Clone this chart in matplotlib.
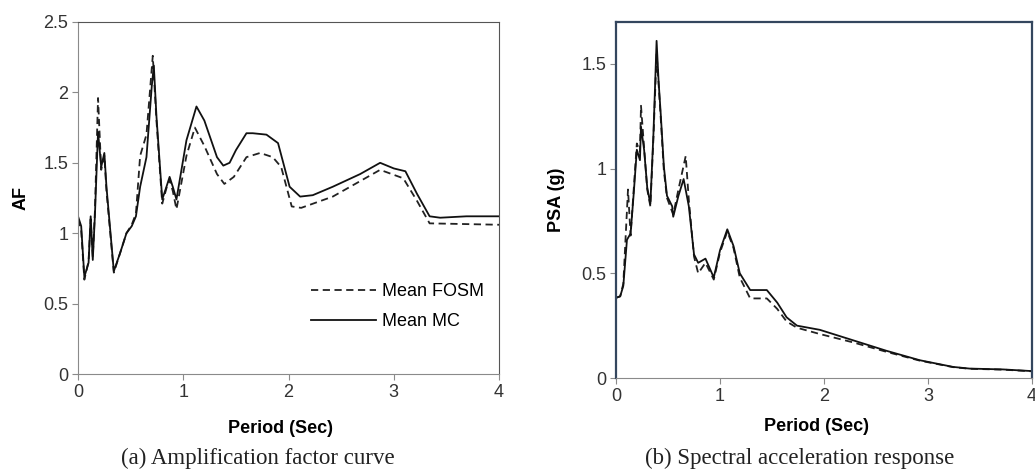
import matplotlib.pyplot as plt

# (a) amplification factor curve
af_period_mc = [0.0, 0.03, 0.06, 0.1, 0.12, 0.14, 0.16, 0.19, 0.22, 0.25, 0.27, 0.34, 0.40,
                0.46, 0.51, 0.55, 0.59, 0.65, 0.70, 0.72, 0.745, 0.80, 0.84, 0.87, 0.90, 0.935,
                1.03, 1.125, 1.20, 1.32, 1.38, 1.44, 1.50, 1.60, 1.66, 1.79, 1.90, 2.01, 2.11,
                2.23, 2.42, 2.68, 2.87, 3.0, 3.11, 3.22, 3.34, 3.44, 3.69, 4.0]
af_mc = [1.12, 1.05, 0.69, 0.79, 1.12, 0.81, 1.12, 1.72, 1.47, 1.57, 1.33, 0.73, 0.86,
         1.0, 1.05, 1.12, 1.33, 1.54, 2.04, 2.19, 1.83, 1.24, 1.33, 1.40, 1.33, 1.24,
         1.66, 1.90, 1.80, 1.54, 1.48, 1.50, 1.59, 1.71, 1.71, 1.70, 1.64, 1.33, 1.26,
         1.27, 1.33, 1.42, 1.50, 1.46, 1.44, 1.28, 1.12, 1.11, 1.12, 1.12]

af_period_fosm = [0.0, 0.03, 0.06, 0.1, 0.12, 0.14, 0.16, 0.19, 0.22, 0.25, 0.27, 0.34, 0.40,
                  0.46, 0.51, 0.55, 0.59, 0.65, 0.71, 0.745, 0.80, 0.84, 0.87, 0.90, 0.935,
                  1.03, 1.11, 1.20, 1.32, 1.39, 1.48, 1.60, 1.73, 1.85, 1.93, 2.03, 2.12,
                  2.42, 2.87, 3.09, 3.22, 3.34, 4.0]
af_fosm = [1.10, 1.02, 0.67, 0.80, 1.10, 0.83, 1.15, 1.96, 1.45, 1.55, 1.30, 0.72, 0.86,
           1.0, 1.06, 1.14, 1.55, 1.70, 2.26, 1.80, 1.21, 1.32, 1.38, 1.30, 1.17,
           1.55, 1.75, 1.62, 1.42, 1.35, 1.40, 1.54, 1.57, 1.54, 1.47, 1.19, 1.18,
           1.26, 1.45, 1.39, 1.23, 1.07, 1.06]

# (b) spectral acceleration response
psa_period_mc = [0.0, 0.04, 0.07, 0.105, 0.14, 0.17, 0.20, 0.23, 0.24, 0.27, 0.30, 0.33,
                 0.36, 0.39, 0.41, 0.43, 0.46, 0.49, 0.54, 0.55, 0.60, 0.65, 0.70, 0.75,
                 0.79, 0.86, 0.94, 1.00, 1.07, 1.13, 1.19, 1.29, 1.45, 1.55, 1.64, 1.74,
                 1.96, 2.28, 2.60, 2.92, 3.24, 3.40, 3.72, 4.0]
psa_mc = [0.383, 0.39, 0.44, 0.66, 0.69, 0.88, 1.09, 1.04, 1.20, 1.09, 0.91, 0.83,
          1.17, 1.61, 1.41, 1.26, 1.01, 0.87, 0.82, 0.77, 0.87, 0.95, 0.82, 0.59,
          0.55, 0.57, 0.48, 0.61, 0.71, 0.63, 0.50, 0.42, 0.42, 0.36, 0.29, 0.25,
          0.23, 0.18, 0.13, 0.085, 0.053, 0.045, 0.041, 0.033]

psa_period_fosm = [0.0, 0.04, 0.07, 0.10, 0.115, 0.14, 0.17, 0.20, 0.23, 0.24, 0.27, 0.30,
                   0.33, 0.36, 0.39, 0.41, 0.43, 0.46, 0.49, 0.55, 0.60, 0.67, 0.70, 0.75,
                   0.79, 0.86, 0.94, 1.00, 1.07, 1.13, 1.19, 1.29, 1.45, 1.55, 1.64, 1.74,
                   1.96, 2.28, 2.60, 2.92, 3.24, 3.40, 3.72, 4.0]
psa_fosm = [0.383, 0.39, 0.45, 0.75, 0.90, 0.68, 0.90, 1.12, 1.08, 1.30, 1.10, 0.90,
            0.82, 1.15, 1.55, 1.40, 1.24, 0.99, 0.86, 0.78, 0.90, 1.06, 0.85, 0.58,
            0.50, 0.55, 0.47, 0.60, 0.70, 0.62, 0.48, 0.38, 0.38, 0.33, 0.27, 0.24,
            0.21, 0.17, 0.125, 0.083, 0.052, 0.044, 0.040, 0.032]

plt.rcParams['font.family'] = ['Liberation Sans', 'DejaVu Sans']

fig = plt.figure(figsize=(10.35, 4.75), dpi=100)
ax1 = fig.add_axes([0.0754, 0.2126, 0.4068, 0.7411])
ax2 = fig.add_axes([0.5952, 0.2042, 0.4019, 0.7495])

# left panel
ax1.plot(af_period_fosm, af_fosm, color='#222222', lw=1.3, ls=(0, (4, 2.5)), label='Mean FOSM')
ax1.plot(af_period_mc, af_mc, color='#111111', lw=1.3, label='Mean MC')
ax1.set_xlim(0, 4)
ax1.set_ylim(0, 2.5)
ax1.set_xticks([0, 1, 2, 3, 4])
ax1.set_yticks([0, 0.5, 1, 1.5, 2, 2.5])
ax1.set_yticklabels(['0', '0.5', '1', '1.5', '2', '2.5'])
ax1.set_ylabel('AF', fontweight='bold', fontsize=13, labelpad=10)
ax1.set_xlabel('Period (Sec)', fontweight='bold', fontsize=13)
ax1.xaxis.set_label_coords(0.48, -0.131)
for s in ['top', 'right']:
    ax1.spines[s].set_color('#555555')
for s in ['left', 'bottom']:
    ax1.spines[s].set_color('#8a8a8a')
ax1.legend(frameon=False, loc='upper left', bbox_to_anchor=(0.515, 0.305),
           handlelength=3.6, labelspacing=0.75, fontsize=13, handletextpad=0.35)

# right panel
ax2.plot(psa_period_fosm, psa_fosm, color='#222222', lw=1.3, ls=(0, (4, 2.5)))
ax2.plot(psa_period_mc, psa_mc, color='#111111', lw=1.3)
ax2.set_xlim(0, 4)
ax2.set_ylim(0, 1.7)
ax2.set_xticks([0, 1, 2, 3, 4])
ax2.set_yticks([0, 0.5, 1, 1.5])
ax2.set_yticklabels(['0', '0.5', '1', '1.5'])
ax2.set_ylabel('PSA (g)', fontweight='bold', fontsize=13, labelpad=12)
ax2.set_xlabel('Period (Sec)', fontweight='bold', fontsize=13)
ax2.xaxis.set_label_coords(0.483, -0.112)
for s in ['top', 'right', 'left']:
    ax2.spines[s].set_color('#34465e')
    ax2.spines[s].set_linewidth(1.6)
ax2.spines['bottom'].set_color('#8a8a8a')

for ax in (ax1, ax2):
    ax.tick_params(direction='out', length=4, width=0.8, color='#8a8a8a',
                   labelsize=13, labelcolor='#333333', pad=3)

fig.text(0.249, 0.034, '(a) Amplification factor curve', family='Liberation Serif',
         fontsize=16.5, ha='center', va='center', color='#222222')
fig.text(0.773, 0.034, '(b) Spectral acceleration response', family='Liberation Serif',
         fontsize=16.5, ha='center', va='center', color='#222222')

fig.savefig('out.png', dpi=100)
